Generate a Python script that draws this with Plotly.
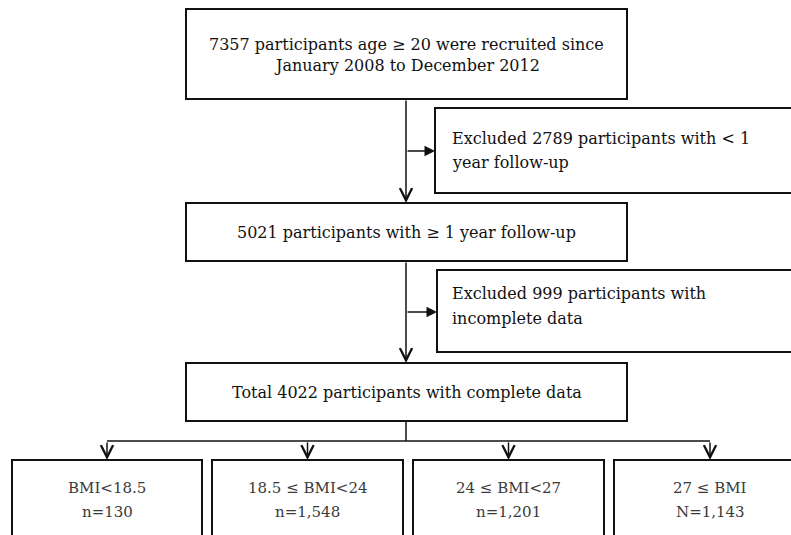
import plotly.graph_objects as go

# ---- content (text of the flow chart) ----
main_steps = [
    ["7357 participants age ≥ 20 were recruited since", "January 2008 to December 2012"],
    ["5021 participants with ≥ 1 year follow-up"],
    ["Total 4022 participants with complete data"],
]
excluded_steps = [
    ["Excluded 2789 participants with < 1", "year follow-up"],
    ["Excluded 999 participants with", "incomplete data"],
]
bmi_groups = ["BMI<18.5", "18.5 ≤ BMI<24", "24 ≤ BMI<27", "27 ≤ BMI"]
bmi_counts = ["n=130", "n=1,548", "n=1,201", "N=1,143"]

# ---- layout geometry (page pixels, y downward) ----
W, H = 791, 535
main_x = (186, 627)
main_y = [(9, 99), (203, 261), (363, 421)]
main_text_y = [[44, 65], [232], [392]]
spine_x = 406
excl_x0 = [435, 437]
excl_y = [(108, 193), (270, 352)]
excl_arrow_y = [151, 312]
excl_text_y = [[138, 162], [293, 318]]
excl_text_x = 450
branch_y = 441
bottom_top = 460
bottom_x = [(12, 202), (212, 403), (413, 604), (614, 806)]
bottom_text_y = [488, 512]

LINE = "#111111"
FONT = "DejaVu Serif"

fig = go.Figure()
shapes = []
annotations = []

def box(x0, y0, x1, y1):
    shapes.append(dict(type="rect", xref="x", yref="y", x0=x0, y0=y0, x1=x1, y1=y1,
                       line=dict(color=LINE, width=2), fillcolor="white", layer="above"))

def text(x, y, s, anchor="center", color="#111111", size=16):
    annotations.append(dict(x=x, y=y, xref="x", yref="y", text=s, showarrow=False,
                            xanchor=anchor, yanchor="middle",
                            font=dict(family=FONT, size=size, color=color)))

def arrow(x_tail, y_tail, x_tip, y_tip, head, size):
    annotations.append(dict(x=x_tip, y=y_tip, ax=x_tail, ay=y_tail, xref="x", yref="y",
                            axref="x", ayref="y", text="", showarrow=True,
                            arrowhead=head, arrowsize=size, arrowwidth=1.5,
                            arrowcolor=LINE, standoff=0, startstandoff=0))

# main boxes
for (y0, y1), lines, ys in zip(main_y, main_steps, main_text_y):
    box(main_x[0], y0, main_x[1], y1)
    for s, ty in zip(lines, ys):
        text((main_x[0] + main_x[1]) / 2, ty, s)

# downward arrows between main boxes
for i in range(len(main_y) - 1):
    arrow(spine_x, main_y[i][1], spine_x, main_y[i + 1][0], 5, 1.6)

# exclusion boxes
for x0, (y0, y1), ay, lines, ys in zip(excl_x0, excl_y, excl_arrow_y, excluded_steps, excl_text_y):
    box(x0, y0, W + 40, y1)
    arrow(spine_x, ay, x0, ay, 2, 1.4)
    for s, ty in zip(lines, ys):
        text(excl_text_x, ty, s, anchor="left")

# branch to BMI groups
centers = [(a + b) / 2 for a, b in bottom_x]
centers[-1] = 710
shapes.append(dict(type="line", xref="x", yref="y", x0=spine_x, x1=spine_x,
                   y0=main_y[-1][1], y1=branch_y, line=dict(color=LINE, width=1.5)))
shapes.append(dict(type="line", xref="x", yref="y", x0=centers[0], x1=centers[-1],
                   y0=branch_y, y1=branch_y, line=dict(color=LINE, width=1.5)))
for cx in centers:
    arrow(cx, branch_y, cx, bottom_top, 5, 1.6)

for (x0, x1), cx, g, n in zip(bottom_x, centers, bmi_groups, bmi_counts):
    box(x0, bottom_top, x1, H + 40)
    text(cx, bottom_text_y[0], g, color="#3a3a3a", size=15)
    text(cx, bottom_text_y[1], n, color="#3a3a3a", size=15)

fig.update_layout(
    width=W, height=H, margin=dict(l=0, r=0, t=0, b=0),
    paper_bgcolor="white", plot_bgcolor="white",
    xaxis=dict(range=[0, W], visible=False, fixedrange=True),
    yaxis=dict(range=[H, 0], visible=False, fixedrange=True),
    shapes=shapes, annotations=annotations, showlegend=False,
)

fig.write_html(
    "out.html",
    config={"displayModeBar": False, "staticPlot": True},
    post_script="document.body.style.margin='0';document.body.style.overflow='hidden';",
)
